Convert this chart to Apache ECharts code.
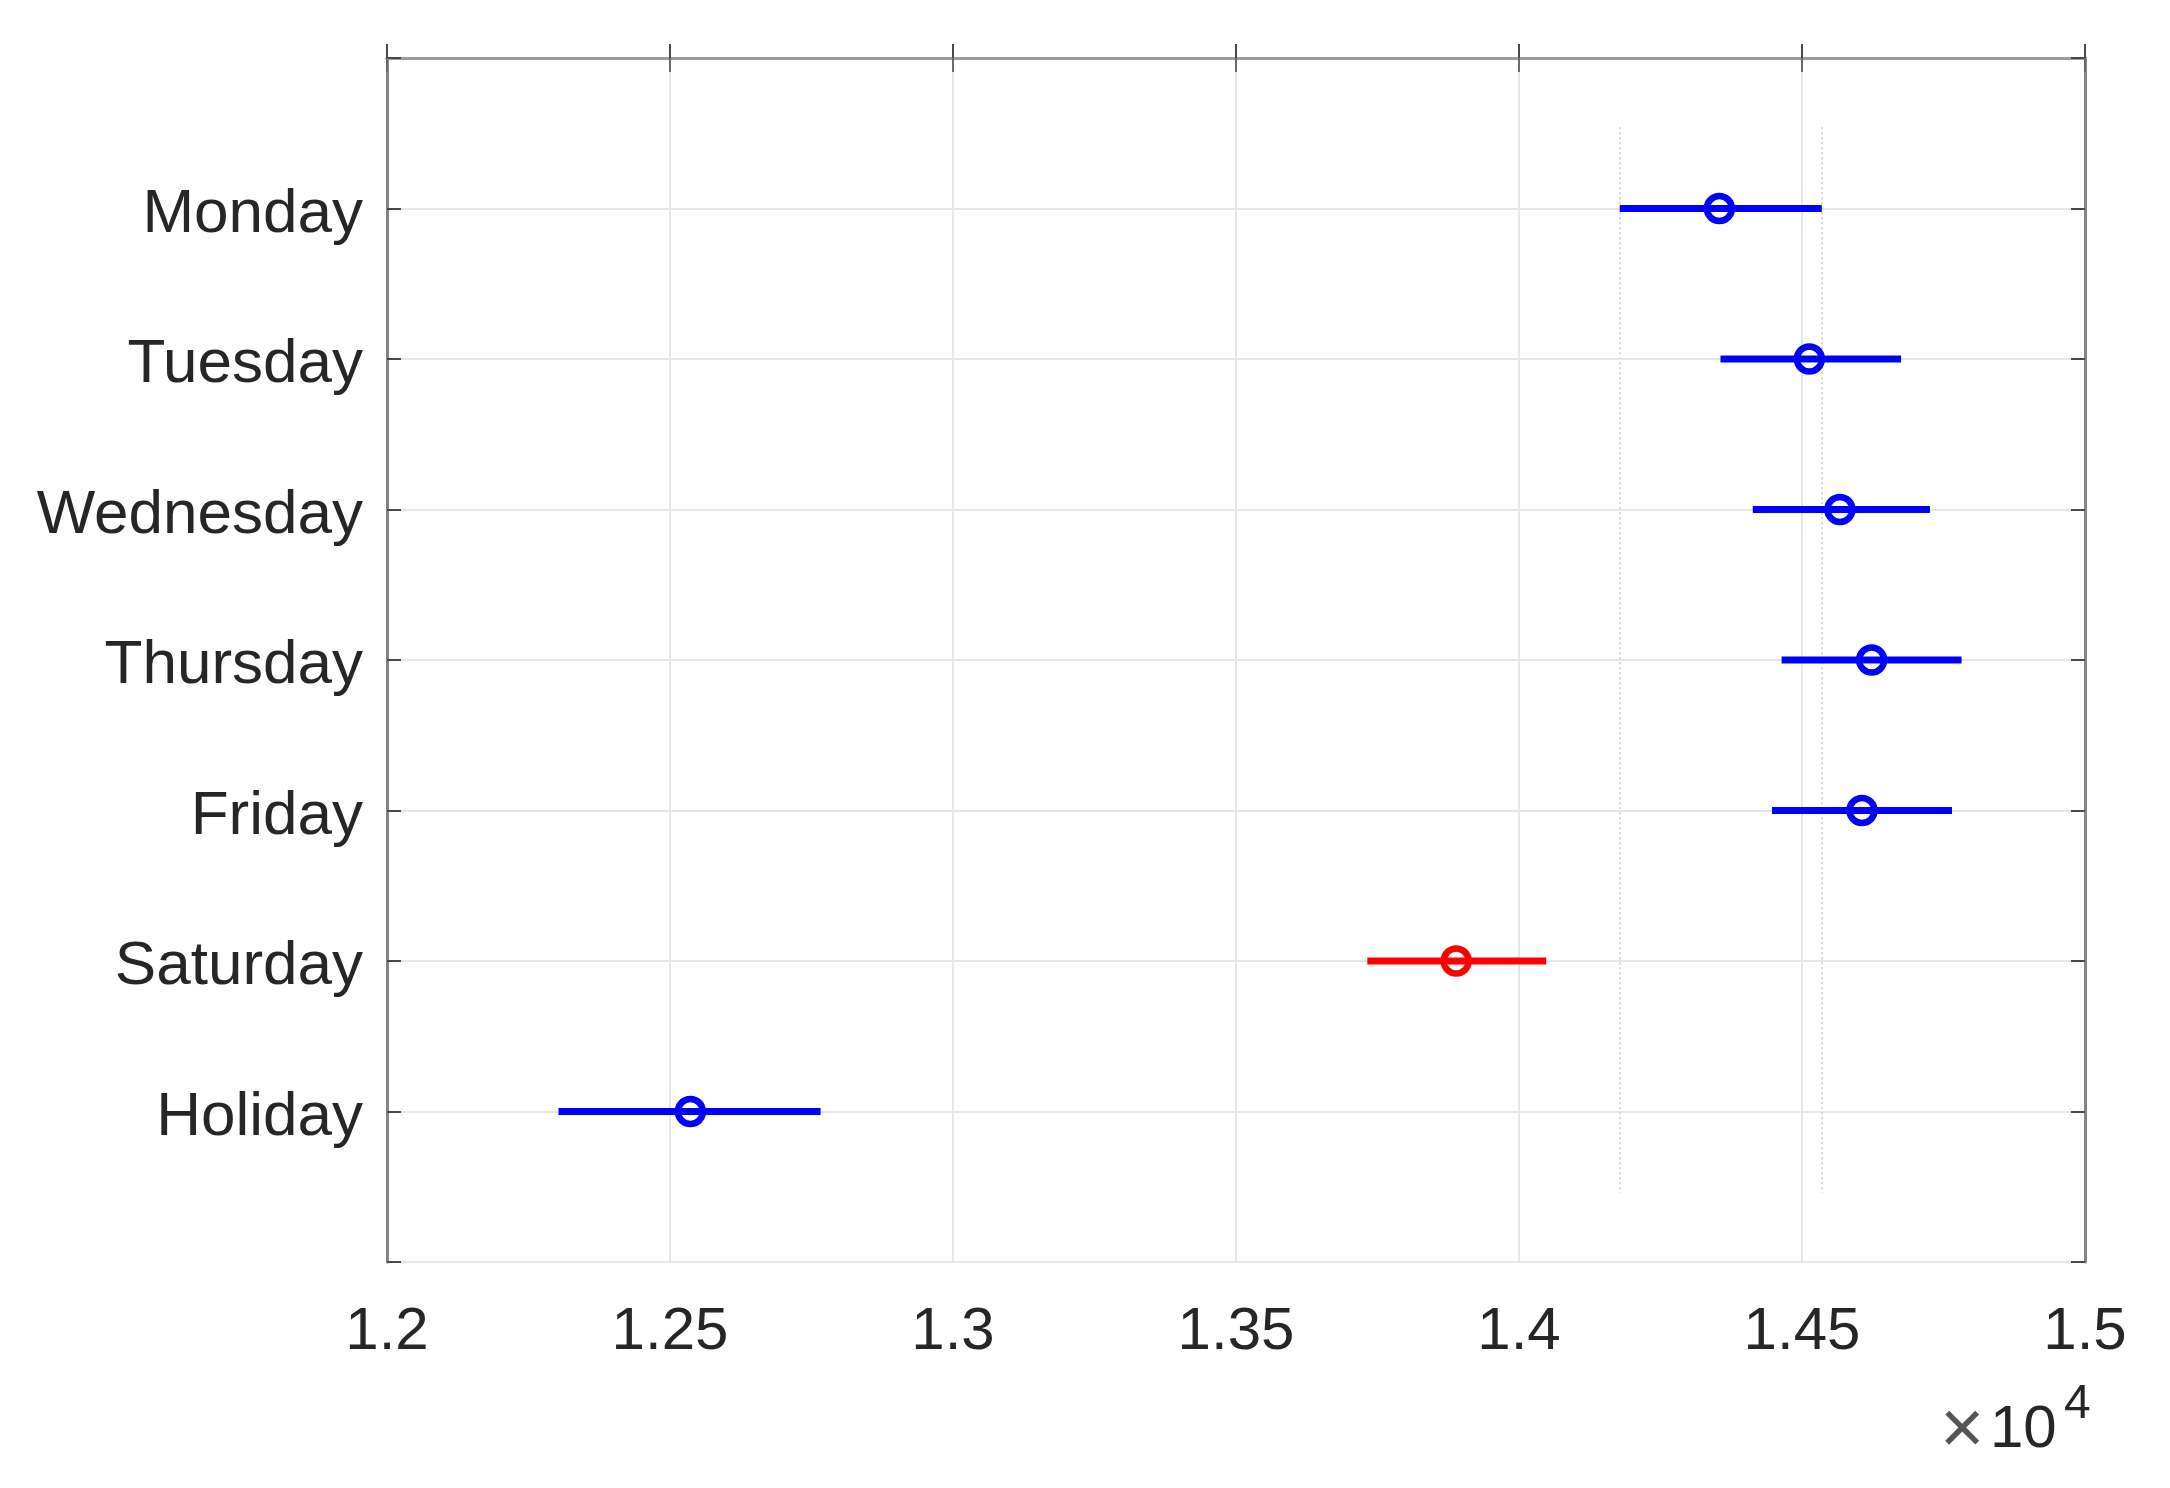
<!DOCTYPE html>
<html>
<head>
<meta charset="utf-8">
<script src="https://cdn.jsdelivr.net/npm/echarts@6/dist/echarts.min.js"></script>
<style>html,body{margin:0;padding:0;background:#fff}#c{width:2170px;height:1488px}</style>
</head>
<body>
<div id="c"></div>
<script>
const categories = ['Monday','Tuesday','Wednesday','Thursday','Friday','Saturday','Holiday'];
const means = [14354, 14513, 14567, 14623, 14606, 13889, 12536];
const lower = [14178, 14356, 14413, 14464, 14447, 13732, 12303];
const upper = [14535, 14675, 14726, 14782, 14765, 14048, 12766];
const groupColors = ['#0000ff','#0000ff','#0000ff','#0000ff','#0000ff','#ff0000','#0000ff'];
const refLines = [14178, 14535];
const xTickValues = [12000, 12500, 13000, 13500, 14000, 14500, 15000];
const xTickLabels = ['1.2','1.25','1.3','1.35','1.4','1.45','1.5'];

const FONT = '"Liberation Sans", Arial, Helvetica, sans-serif';
const TXT = '#262626';

const chart = echarts.init(document.getElementById('c'));
const data = categories.map((c, i) => [i + 1, lower[i], upper[i], means[i], i]);

const axisLineStyle = { color: '#858585', width: 3 };
const tickStyle = { color: '#4a4a4a', width: 2 };
const gridLine = { lineStyle: { color: '#e6e6e6', width: 2 } };

chart.setOption({
  animation: false,
  backgroundColor: '#fff',
  grid: { left: 387, right: 85, top: 58, bottom: 226 },
  xAxis: [{
    type: 'value', min: 12000, max: 15000, interval: 500, position: 'bottom',
    axisLine: { show: true, lineStyle: axisLineStyle },
    axisTick: { show: true, inside: true, length: 14, lineStyle: tickStyle },
    axisLabel: { margin: 40, fontSize: 60, color: TXT, fontFamily: FONT,
      formatter: v => { const k = xTickValues.indexOf(v); return k >= 0 ? xTickLabels[k] : ''; } },
    splitLine: { show: true, ...gridLine }
  }, {
    type: 'value', min: 12000, max: 15000, interval: 500, position: 'top',
    axisLine: { show: true, lineStyle: { color: '#9a9a9a', width: 3 } },
    axisTick: { show: true, inside: true, length: 14, lineStyle: { color: '#6a6a6a', width: 2 } },
    axisLabel: { show: false }, splitLine: { show: false }
  }],
  yAxis: [{
    type: 'value', min: 0, max: 8, interval: 1, inverse: true, position: 'left',
    axisLine: { show: true, lineStyle: axisLineStyle },
    axisTick: { show: true, inside: true, length: 14, lineStyle: tickStyle },
    axisLabel: { margin: 24, color: TXT,
      formatter: v => categories[v - 1] ? '{d|' + categories[v - 1] + '}' : '',
      rich: { d: { fontSize: 62, fontFamily: FONT, color: TXT, padding: [12, 0, 0, 0] } } },
    splitLine: { show: true, ...gridLine }
  }, {
    type: 'value', min: 0, max: 8, interval: 1, inverse: true, position: 'right',
    axisLine: { show: true, lineStyle: axisLineStyle },
    axisTick: { show: true, inside: true, length: 14, lineStyle: tickStyle },
    axisLabel: { show: false }, splitLine: { show: false }
  }],
  series: [{
    type: 'custom',
    xAxisIndex: 0, yAxisIndex: 0,
    data: data,
    encode: { x: [1, 2, 3], y: 0 },
    renderItem: (params, api) => {
      const y = api.value(0);
      const p1 = api.coord([api.value(1), y]);
      const p2 = api.coord([api.value(2), y]);
      const pm = api.coord([api.value(3), y]);
      const col = groupColors[api.value(4)];
      return {
        type: 'group',
        children: [
          { type: 'line', shape: { x1: p1[0], y1: p1[1], x2: p2[0], y2: p2[1] },
            style: { stroke: col, lineWidth: 7 } },
          { type: 'circle', shape: { cx: pm[0], cy: pm[1], r: 12.5 },
            style: { stroke: col, lineWidth: 6.5, fill: null } }
        ]
      };
    },
    markLine: {
      silent: true, symbol: 'none', label: { show: false },
      lineStyle: { color: '#d6d6d6', type: [2, 3], width: 2 },
      data: refLines.map(v => [{ coord: [v, 0.46] }, { coord: [v, 7.54] }])
    },
    z: 5
  }],
  graphic: [
    { type: 'text', left: 1940, top: 1394, style: { text: '×', font: '76px ' + FONT, fill: '#555' } },
    { type: 'text', left: 1990, top: 1400, style: { text: '10', font: '60px ' + FONT, fill: TXT } },
    { type: 'text', left: 2064, top: 1381, style: { text: '4', font: '48px ' + FONT, fill: TXT } }
  ]
});
</script>
</body>
</html>
